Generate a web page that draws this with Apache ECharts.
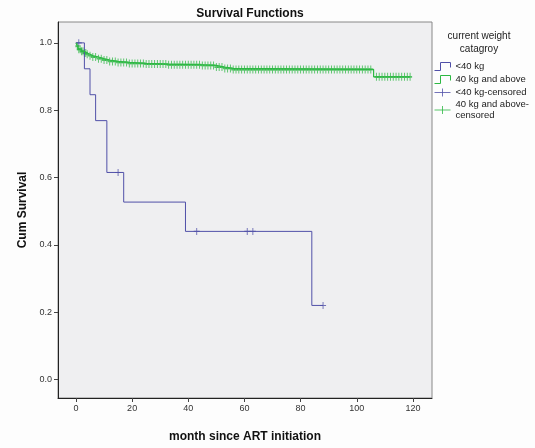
<!DOCTYPE html>
<html>
<head>
<meta charset="utf-8">
<script src="https://cdn.jsdelivr.net/npm/echarts@6/dist/echarts.min.js"></script>
<style>
  html, body { margin: 0; padding: 0; background: #fdfdfd; }
  #chart { width: 535px; height: 448px; }
</style>
</head>
<body>
<div id="chart"></div>
<script>
// tick labels
const xTicks = [0, 20, 40, 60, 80, 100, 120]
const yTicks = [0, 0.2, 0.4, 0.6, 0.8, 1.0]

// <40 kg : event times and survival after each step
const lowTimes = [0, 3, 5, 7, 11, 17, 39, 84, 88]
const lowSurv = [1, 0.923, 0.846, 0.769, 0.615, 0.527, 0.44, 0.22, 0.22]
const lowCensored = [1, 15, 43, 61, 63, 88]

// 40 kg and above
const highTimes = [0, 0.5, 1, 2, 3, 4, 5, 6, 8, 10, 12, 15, 19, 25, 33, 45, 50, 53, 56, 106, 119]
const highSurv = [1, 0.99, 0.981, 0.975, 0.97, 0.966, 0.962, 0.958, 0.953, 0.949, 0.945, 0.942,
  0.939, 0.937, 0.935, 0.933, 0.928, 0.924, 0.921, 0.899, 0.899]
const highCensored = [0.5, 1, 1.5, 2, 2.5, 3, 3.5, 4, 5, 6, 7, 8, 9, 10, 11, 12, 13, 14, 15, 16, 17, 18,
  19, 20, 21, 22, 23, 24, 25, 26, 27, 28, 29, 30, 31, 32, 33, 34, 35, 36, 37, 38, 39, 40, 41, 42,
  43, 44, 45, 46, 47, 48, 49, 50, 51, 52, 53, 54, 55, 56, 57, 58, 59, 60, 61, 62, 63, 64, 65, 66,
  67, 68, 69, 70, 71, 72, 73, 74, 75, 76, 77, 78, 79, 80, 81, 82, 83, 84, 85, 86, 87, 88, 89, 90,
  91, 92, 93, 94, 95, 96, 97, 98, 99, 100, 101, 102, 103, 104, 105, 107, 108, 109, 110, 111, 112,
  113, 114, 115, 116, 117, 118, 119]

const BLUE = '#5050a8'
const GREEN = '#2db843'

// survival value at time t (step function)
function survAt(times, surv, t) {
  let s = surv[0]
  for (let i = 0; i < times.length; i++) {
    if (times[i] <= t) s = surv[i]
  }
  return s
}

function pairs(xs, ys) {
  return xs.map((x, i) => [x, ys[i]])
}

const crossIcon = 'path://M0,5L16,5M8,1L8,9'
const stepIcon = 'path://M0,9L6,9L6,1L16,1L16,6'
const crossMark = 'path://M0,5L10,5M5,0L5,10'

const chart = echarts.init(document.getElementById('chart'))
chart.setOption({
  backgroundColor: '#fdfdfd',
  animation: false,
  textStyle: { fontFamily: 'Liberation Sans, Arial, sans-serif' },
  title: [
    {
      text: 'Survival Functions',
      left: 245,
      textAlign: 'center',
      top: 3,
      textStyle: { fontSize: 12, fontWeight: 'bold', color: '#111' }
    },
    {
      text: 'current weight\ncatagroy',
      left: 479,
      textAlign: 'center',
      top: 30,
      padding: 0,
      textStyle: { fontSize: 10, fontWeight: 'normal', color: '#222', lineHeight: 13 }
    }
  ],
  legend: {
    orient: 'vertical',
    left: 432,
    top: 60,
    padding: 0,
    itemWidth: 16,
    itemHeight: 8,
    itemGap: 0,
    textStyle: { fontSize: 9.5, color: '#222', lineHeight: 11 },
    formatter: name => name === '40 kg and above-censored' ? '40 kg and above-\ncensored' : name,
    data: [
      { name: '<40 kg', icon: stepIcon, itemStyle: { color: 'none', borderColor: BLUE, borderWidth: 1 } },
      { name: '40 kg and above', icon: stepIcon, itemStyle: { color: 'none', borderColor: GREEN, borderWidth: 1 } },
      { name: '<40 kg-censored', icon: crossIcon, itemStyle: { color: 'none', borderColor: BLUE, borderWidth: 1 } },
      { name: '40 kg and above-censored', icon: crossIcon, itemStyle: { color: 'none', borderColor: GREEN, borderWidth: 1 } }
    ]
  },
  grid: {
    left: 58,
    right: 103,
    top: 22,
    bottom: 46,
    show: true,
    backgroundColor: '#efeff1',
    borderColor: '#888',
    borderWidth: 1
  },
  xAxis: {
    type: 'value',
    min: -6.4,
    max: 126.8,
    name: 'month since ART initiation',
    nameLocation: 'center',
    nameGap: 33,
    nameTextStyle: { fontSize: 12, fontWeight: 'bold', color: '#111' },
    splitLine: { show: false },
    axisLine: { onZero: false, lineStyle: { color: '#222' } },
    axisTick: { customValues: xTicks, length: 4, lineStyle: { color: '#444' } },
    axisLabel: { customValues: xTicks, fontSize: 9, color: '#333', margin: 6 }
  },
  yAxis: {
    type: 'value',
    min: -0.055,
    max: 1.062,
    name: 'Cum Survival',
    nameLocation: 'center',
    nameGap: 29,
    nameTextStyle: { fontSize: 12, fontWeight: 'bold', color: '#111' },
    splitLine: { show: false },
    axisLine: { show: true, onZero: false, lineStyle: { color: '#222' } },
    axisTick: { show: true, customValues: yTicks, length: 4, lineStyle: { color: '#444' } },
    axisLabel: {
      customValues: yTicks,
      fontSize: 9,
      color: '#333',
      margin: 6,
      formatter: v => v.toFixed(1)
    }
  },
  series: [
    {
      name: '<40 kg',
      type: 'line',
      step: 'end',
      symbol: 'none',
      lineStyle: { color: BLUE, width: 1 },
      itemStyle: { color: BLUE },
      data: pairs(lowTimes, lowSurv)
    },
    {
      name: '40 kg and above',
      type: 'line',
      step: 'end',
      symbol: 'none',
      lineStyle: { color: GREEN, width: 1.2 },
      itemStyle: { color: GREEN },
      data: pairs(highTimes, highSurv)
    },
    {
      name: '<40 kg-censored',
      type: 'scatter',
      symbol: crossMark,
      symbolSize: [6, 7],
      itemStyle: { color: 'none', borderColor: BLUE, borderWidth: 1 },
      data: lowCensored.map(t => [t, survAt(lowTimes, lowSurv, t)])
    },
    {
      name: '40 kg and above-censored',
      type: 'scatter',
      symbol: crossMark,
      symbolSize: [4, 8],
      itemStyle: { color: 'none', borderColor: GREEN, borderWidth: 1.3 },
      data: highCensored.map(t => [t, survAt(highTimes, highSurv, t)])
    }
  ]
})
window.addEventListener('resize', function() {
  chart.resize()
})
</script>
</body>
</html>
